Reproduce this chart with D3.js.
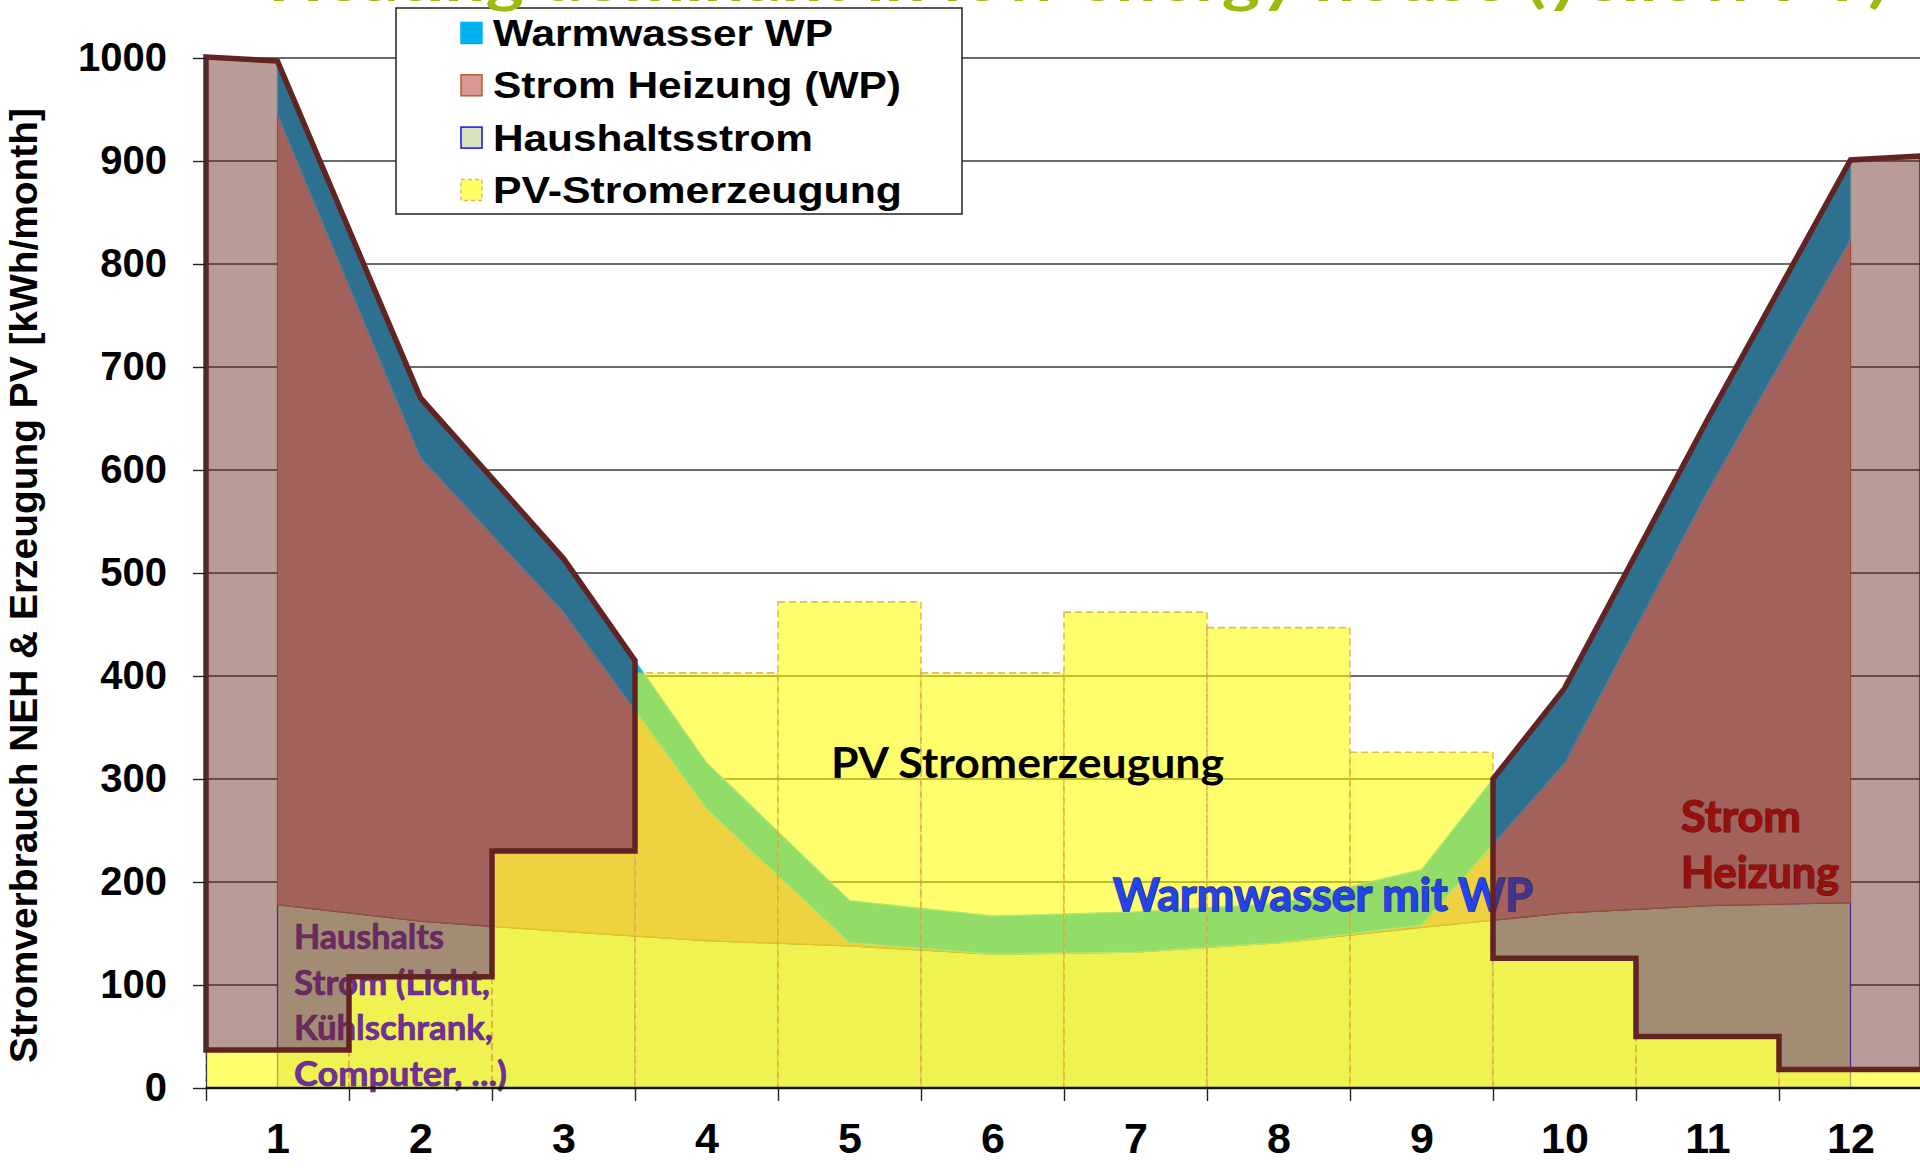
<!DOCTYPE html>
<html><head><meta charset="utf-8">
<script src="https://cdn.jsdelivr.net/npm/d3@7"></script>
<style>html,body{margin:0;padding:0;background:#fff;overflow:hidden}</style>
</head><body>
<svg id="chart" width="1920" height="1168"></svg>
<script>
// ---------------- data ----------------
const months = [1,2,3,4,5,6,7,8,9,10,11,12];
const monthLabels = ["1","2","3","4","5","6","7","8","9","10","11","12"];
const yTicks = [0,100,200,300,400,500,600,700,800,900,1000];
const haushaltsstrom = [178,162,152,143,138,130,132,141,156,170,177,180];
const stromHeizung   = [767,450,310,128,3,0,0,0,2,145,402,644];
const warmwasserWP   = [52,58,52,45,41,37,39,38,54,73,70,77];
const pvErzeugung    = [37,108,230,403,472,403,462,447,326,126,50,18];
const edgeDemand     = [1001, 905];           // demand at outer edge of Jan / Dec band
const gridGroups     = [[0,1,2],[9,10,11]];  // months where demand exceeds PV (grid purchase)
const legendLabels   = ["Warmwasser WP","Strom Heizung (WP)","Haushaltsstrom","PV-Stromerzeugung"];
const titleText = "Heating dominant in low energy house (yellow PV)";
const yTitle = "Stromverbrauch NEH & Erzeugung PV [kWh/month]";
const noteHaushalt = ["Haushalts","Strom (Licht,","Kühlschrank,","Computer, ...)"];
const notePV = "PV Stromerzeugung";
const noteWW = "Warmwasser mit WP";
const noteHeiz = ["Strom","Heizung"];

// ---------------- setup ----------------
const svg = d3.select("#chart");
const x = d3.scaleLinear().domain([0.5, 12.5]).range([206, 1922]);
const y = d3.scaleLinear().domain([0, 1000]).range([1088, 58]);
const ARIAL = "'Liberation Sans', Arial, sans-serif";
const CAL = "Lato, 'Open Sans', sans-serif";

// gridlines
svg.append("g").selectAll("line").data(yTicks.filter(d => d > 0)).join("line")
  .attr("x1", x(0.5)).attr("x2", x(12.5))
  .attr("y1", d => y(d)).attr("y2", d => y(d))
  .attr("stroke", "#3a3a3a").attr("stroke-width", 1.4);

// stacked areas
const rows = months.map((m, i) => ({m, haushalt: haushaltsstrom[i], heizung: stromHeizung[i], ww: warmwasserWP[i]}));
const stacked = d3.stack().keys(["haushalt","heizung","ww"])(rows);
const areaGen = d3.area().x(d => x(d.data.m)).y0(d => y(d[0])).y1(d => y(d[1]));
const areaStyle = {
  haushalt: {fill: "#D7E4BD", stroke: "#2F2FF0"},
  heizung:  {fill: "#D99694", stroke: "#C0704D"},
  ww:       {fill: "#00B0F0", stroke: "#55C8F4"}
};
svg.append("g").selectAll("path").data(stacked).join("path")
  .attr("d", d => areaGen(d) + "")
  .attr("fill", d => areaStyle[d.key].fill)
  .attr("stroke", d => areaStyle[d.key].stroke)
  .attr("stroke-width", 1.3);

// PV bars (semi-transparent yellow)
svg.append("g").selectAll("rect").data(months).join("rect")
  .attr("x", m => x(m - 0.5)).attr("width", m => x(m + 0.5) - x(m - 0.5))
  .attr("y", (m, i) => y(pvErzeugung[i])).attr("height", (m, i) => y(0) - y(pvErzeugung[i]))
  .attr("fill", "#FFFF00").attr("fill-opacity", 0.57)
  .attr("stroke", "#D8A246").attr("stroke-opacity", 0.75)
  .attr("stroke-width", 1.6).attr("stroke-dasharray", "7 4");

// annotation texts (under the grid-purchase overlay)
const notes = svg.append("g");
notes.append("text").attr("x", 831).attr("y", 778).text(notePV)
  .attr("font-family", CAL).attr("font-weight", 700).attr("font-size", 42)
  .attr("textLength", 393).attr("lengthAdjust", "spacingAndGlyphs").attr("fill", "#000");
notes.append("text").attr("x", 1113).attr("y", 911).text(noteWW)
  .attr("font-family", CAL).attr("font-weight", 700).attr("font-size", 45)
  .attr("textLength", 420).attr("lengthAdjust", "spacingAndGlyphs")
  .attr("fill", "#2244EE").attr("stroke", "#2a2a7a").attr("stroke-width", 1.5).attr("paint-order", "stroke");
const hhWidths = [150, 196, 199, 213];
noteHaushalt.forEach((t, i) => {
  notes.append("text").attr("x", 294).attr("y", 949 + i * 45.5).text(t)
    .attr("font-family", CAL).attr("font-weight", 700).attr("font-size", 35)
    .attr("textLength", hhWidths[i]).attr("lengthAdjust", "spacingAndGlyphs")
    .attr("fill", "#7030A0").attr("stroke", "#5a2080").attr("stroke-width", 0.6);
});
const hzWidths = [120, 158];
noteHeiz.forEach((t, i) => {
  notes.append("text").attr("x", 1681).attr("y", 832 + i * 56).text(t)
    .attr("font-family", CAL).attr("font-weight", 700).attr("font-size", 43)
    .attr("textLength", hzWidths[i]).attr("lengthAdjust", "spacingAndGlyphs")
    .attr("fill", "#C00000").attr("stroke", "#600000").attr("stroke-width", 1.2).attr("paint-order", "stroke");
});

// grid-purchase overlay polygons (demand above PV)
const total = months.map((m, i) => haushaltsstrom[i] + stromHeizung[i] + warmwasserWP[i]);
function overlayPoints(idx) {
  const pts = [];
  const first = idx[0], last = idx[idx.length - 1];
  if (first === 0) pts.push([0.5, edgeDemand[0]]);
  else pts.push([months[first] - 0.5, (total[first - 1] + total[first]) / 2]);
  idx.forEach(i => pts.push([months[i], total[i]]));
  if (last === 11) pts.push([12.5, edgeDemand[1]]);
  else pts.push([months[last] + 0.5, (total[last] + total[last + 1]) / 2]);
  for (let k = idx.length - 1; k >= 0; k--) {
    const i = idx[k];
    pts.push([months[i] + 0.5, pvErzeugung[i]]);
    pts.push([months[i] - 0.5, pvErzeugung[i]]);
  }
  return pts;
}
const lineGen = d3.line().x(d => x(d[0])).y(d => y(d[1]));
svg.append("g").selectAll("path").data(gridGroups).join("path")
  .attr("d", g => lineGen(overlayPoints(g)) + "Z")
  .attr("fill", "rgb(101,35,29)").attr("fill-opacity", 0.455)
  .attr("stroke", "#622422").attr("stroke-width", 5.5).attr("stroke-linejoin", "miter");

// axes
const yAxis = svg.append("g").attr("transform", `translate(${x(0.5)},0)`)
  .call(d3.axisLeft(y).tickValues(yTicks).tickSize(13).tickPadding(26).tickFormat(d => String(d)));
yAxis.select(".domain").attr("stroke", "#333").attr("stroke-width", 1.2);
yAxis.selectAll(".tick line").attr("stroke", "#222").attr("stroke-width", 1.4);
yAxis.selectAll("text").attr("font-family", ARIAL).attr("font-weight", 700).attr("font-size", 40).attr("fill", "#000");

svg.append("line").attr("x1", x(0.5)).attr("x2", x(12.5)).attr("y1", y(0)).attr("y2", y(0))
  .attr("stroke", "#111").attr("stroke-width", 2.6);
const xTicks = svg.append("g").attr("transform", `translate(0,${y(0)})`)
  .call(d3.axisBottom(x).tickValues(d3.range(0.5, 12.6, 1)).tickSize(13).tickFormat(""));
xTicks.select(".domain").remove();
xTicks.selectAll(".tick line").attr("stroke", "#222").attr("stroke-width", 1.4);
const xLabels = svg.append("g").attr("transform", `translate(0,${y(0)})`)
  .call(d3.axisBottom(x).tickValues(months).tickSize(0).tickPadding(34).tickFormat((d, i) => monthLabels[i]));
xLabels.select(".domain").remove();
xLabels.selectAll("text").attr("font-family", ARIAL).attr("font-weight", 700).attr("font-size", 43).attr("fill", "#000");

// y-axis title
svg.append("text").attr("transform", "translate(37,585.5) rotate(-90)")
  .attr("text-anchor", "middle").text(yTitle)
  .attr("font-family", ARIAL).attr("font-weight", 700).attr("font-size", 38)
  .attr("textLength", 955).attr("lengthAdjust", "spacingAndGlyphs").attr("fill", "#000");

// legend
const lg = svg.append("g");
lg.append("rect").attr("x", 396).attr("y", 8).attr("width", 566).attr("height", 206)
  .attr("fill", "#fff").attr("stroke", "#222").attr("stroke-width", 1.5);
const swatch = [
  {fill: "#00B0F0", stroke: "#00B0F0", dash: null},
  {fill: "#D99694", stroke: "#B8602E", dash: null},
  {fill: "#D7E4BD", stroke: "#1010FF", dash: null},
  {fill: "#FFFF66", stroke: "#E3B860", dash: "4 3"}
];
const legWidths = [340, 408, 320, 409];
legendLabels.forEach((t, i) => {
  const cy = 33 + i * 52.3;
  lg.append("rect").attr("x", 461).attr("y", cy - 10.5).attr("width", 21).attr("height", 21)
    .attr("fill", swatch[i].fill).attr("stroke", swatch[i].stroke).attr("stroke-width", 1.5)
    .attr("stroke-dasharray", swatch[i].dash);
  lg.append("text").attr("x", 493).attr("y", cy + 13).text(t)
    .attr("font-family", ARIAL).attr("font-weight", 700).attr("font-size", 37)
    .attr("textLength", legWidths[i]).attr("lengthAdjust", "spacingAndGlyphs").attr("fill", "#000");
});

// title (cut off at the top edge, as in the original slide crop)
svg.append("text").attr("x", 268).attr("y", 1).text(titleText)
  .attr("font-family", CAL).attr("font-weight", 700).attr("font-size", 58)
  .attr("textLength", 1620).attr("lengthAdjust", "spacingAndGlyphs").attr("fill", "#9BBB0F");
</script>
</body></html>
